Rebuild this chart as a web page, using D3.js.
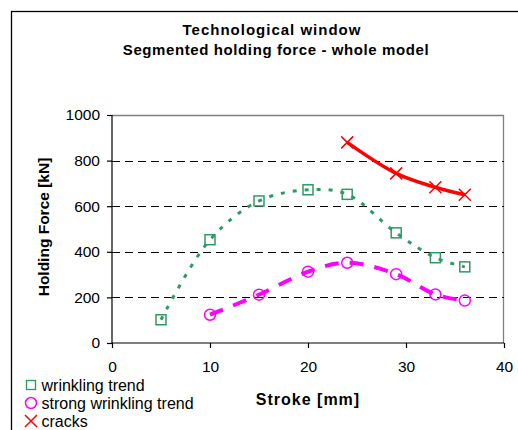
<!DOCTYPE html>
<html>
<head>
<meta charset="utf-8">
<script src="https://cdn.jsdelivr.net/npm/d3@7"></script>
<style>
  body { margin: 0; background: #fff; }
  svg { font-family: "Liberation Sans", Arial, sans-serif; }
</style>
</head>
<body>
<div class="chart"></div>
<script>
// data
var wrinklingX = [5, 10, 15, 20, 24, 29, 33, 36];
var wrinklingY = [102, 453, 623, 672, 652, 483, 374, 334];
var strongX = [10, 15, 20, 24, 29, 33, 36];
var strongY = [124, 212, 313, 352, 302, 213, 186];
var cracksX = [24, 29, 33, 36];
var cracksY = [880, 744, 683, 650];
var xTicks = [0, 10, 20, 30, 40];
var yTicks = [0, 200, 400, 600, 800, 1000];

var svgWidth = 518, svgHeight = 430;
var leftMove = 112, topMove = 115;
var contentWidth = 392, contentHeight = 228;

var svg = d3.select('.chart')
    .append('svg')
    .attr('width', svgWidth)
    .attr('height', svgHeight);

// outer frame
svg.append('rect')
    .attr('x', 11.5).attr('y', 11.5)
    .attr('width', 600).attr('height', 600)
    .style('fill', 'none').style('stroke', '#000').style('stroke-width', 1.3);

// title
svg.append('text').attr('x', 272).attr('y', 35)
    .attr('text-anchor', 'middle').style('font-weight', 'bold').style('font-size', '15px')
    .style('letter-spacing', '1px')
    .text('Technological window');
svg.append('text').attr('x', 276).attr('y', 55)
    .attr('text-anchor', 'middle').style('font-weight', 'bold').style('font-size', '15px')
    .style('letter-spacing', '0.6px')
    .text('Segmented holding force - whole model');

var x = d3.scaleLinear().domain([0, 40]).range([0, contentWidth]);
var y = d3.scaleLinear().domain([0, 1000]).range([contentHeight, 0]);

var g = svg.append('g')
    .attr('transform', 'translate(' + leftMove + ',' + topMove + ')');

// plot border (top, right)
g.append('path')
    .attr('d', 'M0,0.5H' + (contentWidth - 0.5) + 'V' + contentHeight)
    .style('fill', 'none').style('stroke', '#808080').style('stroke-width', 1.3);

// gridlines
g.append('g').selectAll('line')
    .data(yTicks.filter(function(d) { return d > 0 && d < 1000; }))
    .enter().append('line')
    .attr('x1', 0).attr('x2', contentWidth)
    .attr('y1', function(d) { return Math.round(y(d)) + 0.5; })
    .attr('y2', function(d) { return Math.round(y(d)) + 0.5; })
    .style('stroke', '#000').style('stroke-dasharray', '8,5');

// axes
var yAxis = d3.axisLeft(y).tickValues(yTicks).tickFormat(d3.format('d')).tickSize(5).tickPadding(7);
var gy = g.append('g').call(yAxis);
gy.selectAll('text').style('font-size', '15.5px').style('fill', '#000');
gy.select('.domain').attr('d', 'M0,0V' + contentHeight);

var xAxis = d3.axisBottom(x).tickValues(xTicks).tickFormat(d3.format('d')).tickSize(5).tickPadding(13);
var gx = g.append('g').attr('transform', 'translate(0,' + contentHeight + ')').call(xAxis);
gx.selectAll('text').style('font-size', '15.5px').style('fill', '#000');
gx.select('.domain').attr('d', 'M0,0H' + contentWidth);
svg.selectAll('.domain, .tick line').style('stroke', '#000').style('stroke-width', 1.2);

// axis titles
svg.append('text').attr('x', 308).attr('y', 405)
    .attr('text-anchor', 'middle').style('font-weight', 'bold').style('font-size', '16px')
    .style('letter-spacing', '1px')
    .text('Stroke [mm]');
svg.append('text')
    .attr('transform', 'translate(49,227) rotate(-90)')
    .attr('text-anchor', 'middle').style('font-weight', 'bold').style('font-size', '15.5px')
    .text('Holding Force [kN]');

function pts(xs, ys) {
    return xs.map(function(d, i) { return [d, ys[i]]; });
}
var line = d3.line()
    .x(function(d) { return x(d[0]); })
    .y(function(d) { return y(d[1]); })
    .curve(d3.curveCatmullRom.alpha(0.5));

var green = '#2E9A63', magenta = '#FF00FF', red = '#FF0000';
var wData = pts(wrinklingX, wrinklingY),
    sData = pts(strongX, strongY),
    cData = pts(cracksX, cracksY);

g.append('path').datum(wData).attr('d', line)
    .style('fill', 'none').style('stroke', green).style('stroke-width', 3)
    .style('stroke-dasharray', '4,8');
g.append('path').datum(sData).attr('d', line)
    .style('fill', 'none').style('stroke', magenta).style('stroke-width', 4)
    .style('stroke-dasharray', '14,11');
g.append('path').datum(cData).attr('d', line)
    .style('fill', 'none').style('stroke', red).style('stroke-width', 3.5);

// markers
function square(sel, color) {
    sel.append('rect').attr('x', -5).attr('y', -5).attr('width', 10).attr('height', 10)
        .style('fill', 'none').style('stroke', color).style('stroke-width', 1.5);
}
function circle(sel, color) {
    sel.append('circle').attr('r', 5.5)
        .style('fill', 'none').style('stroke', color).style('stroke-width', 1.5);
}
function cross(sel, color) {
    sel.append('path').attr('d', 'M-6,-6L6,6M-6,6L6,-6')
        .style('fill', 'none').style('stroke', color).style('stroke-width', 1.5);
}
function markers(data, fn, color) {
    g.append('g').selectAll('g').data(data).enter().append('g')
        .attr('transform', function(d) { return 'translate(' + x(d[0]) + ',' + y(d[1]) + ')'; })
        .each(function() { fn(d3.select(this), color); });
}
markers(wData, square, green);
markers(sData, circle, magenta);
markers(cData, cross, red);

// legend
var legend = [
    { name: 'wrinkling trend', fn: square, color: green },
    { name: 'strong wrinkling trend', fn: circle, color: magenta },
    { name: 'cracks', fn: cross, color: red }
];
var lg = svg.append('g').selectAll('g').data(legend).enter().append('g')
    .attr('transform', function(d, i) { return 'translate(31,' + (385 + i * 18) + ')'; });
lg.each(function(d) {
    var s = d3.select(this).append('g').attr('transform', d.fn === square ? 'scale(0.9)' : null);
    d.fn(s, d.color);
});
lg.append('text').attr('x', 10.5).attr('y', 5.5).style('font-size', '16px')
    .text(function(d) { return d.name; });
</script>
</body>
</html>
